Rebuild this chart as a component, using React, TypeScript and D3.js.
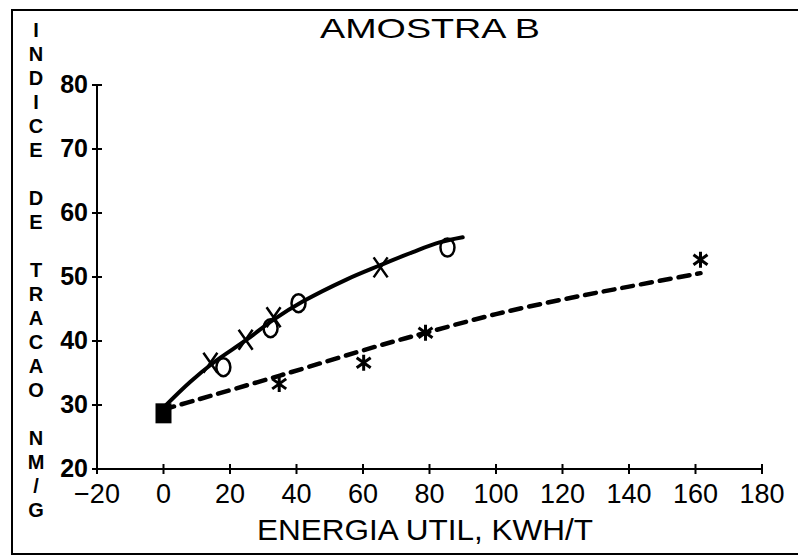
import React from "react";
import * as d3 from "d3";

const title = "AMOSTRA B";
const xTitle = "ENERGIA UTIL, KWH/T";
const yTitleWords = ["INDICE", "DE", "TRACAO", "NM/G"];
const xTicks = [-20, 0, 20, 40, 60, 80, 100, 120, 140, 160, 180];
const yTicks = [20, 30, 40, 50, 60, 70, 80];

// solid fitted curve
const solidX = [0, 8, 15, 25, 33, 42, 55, 65, 75, 83, 90];
const solidY = [29.6, 33.6, 36.6, 40.2, 43.3, 46.2, 49.6, 51.8, 53.9, 55.4, 56.2];
// dashed fitted curve
const dashX = [0, 10, 35, 65, 79, 100, 123, 140, 161.5];
const dashY = [29.3, 30.8, 34.6, 39.3, 41.3, 44.2, 46.8, 48.5, 50.6];

// markers
const xMarkX = [14.1, 24.7, 33.1, 65.3];
const xMarkY = [36.6, 40.2, 43.7, 51.5];
const oMarkX = [18, 32.2, 40.6, 85.4];
const oMarkY = [35.9, 42.0, 45.9, 54.6];
const starX = [34.8, 60.2, 78.8, 161.5];
const starY = [33.3, 36.6, 41.3, 52.7];
const squareX = [0];
const squareY = [28.7];

export default function App() {
  const W = 798, H = 556;
  const x = d3.scaleLinear().domain([-20, 180]).range([97, 762]);
  const y = d3.scaleLinear().domain([20, 80]).range([469, 85]);
  const font = "'Liberation Sans', Arial, sans-serif";

  const line = d3.line<[number, number]>()
    .x(d => x(d[0])).y(d => y(d[1]))
    .curve(d3.curveCatmullRom.alpha(0.5));
  const solidPath = line(solidX.map((v, i) => [v, solidY[i]]) as [number, number][]) || "";
  const dashPath = line(dashX.map((v, i) => [v, dashY[i]]) as [number, number][]) || "";

  const letters: { ch: string; idx: number }[] = [];
  let idx = 0;
  yTitleWords.forEach((w, wi) => {
    for (const ch of w) { letters.push({ ch, idx }); idx++; }
    if (wi < yTitleWords.length - 1) idx++;
  });
  const letterTop = 30, letterPitch = 24;

  return (
    <svg width={W} height={H} style={{ position: "absolute", left: 0, top: 0, background: "#fff" }}>
      <rect x={0} y={0} width={W} height={H} fill="#fff" />
      <path d={`M${W} 10 L12 10 L12 554 L${W} 554`} fill="none" stroke="#000" strokeWidth={2} />
      <text x={320} y={38} fontFamily={font} fontSize={28} textLength={220} lengthAdjust="spacingAndGlyphs" fill="#000">{title}</text>
      {letters.map((l, i) => (
        <text key={i} x={36} y={letterTop + l.idx * letterPitch + 7} textAnchor="middle" fontFamily={font} fontWeight="bold" fontSize={20} fill="#000">{l.ch}</text>
      ))}
      <line x1={x(-20)} y1={y(80)} x2={x(-20)} y2={y(20)} stroke="#000" strokeWidth={2} />
      <line x1={x(-20)} y1={y(20)} x2={x(180)} y2={y(20)} stroke="#000" strokeWidth={2} />
      {yTicks.map(t => (
        <g key={"yt" + t}>
          <line x1={x(-20) - 5} x2={x(-20) + 5} y1={y(t)} y2={y(t)} stroke="#000" strokeWidth={2} />
          <text x={x(-20) - 9} y={y(t) + 8} textAnchor="end" fontFamily={font} fontWeight="bold" fontSize={25} fill="#000">{t}</text>
        </g>
      ))}
      {xTicks.map(t => (
        <g key={"xt" + t}>
          <line x1={x(t)} x2={x(t)} y1={y(20) - 5} y2={y(20) + 5} stroke="#000" strokeWidth={2} />
          <text x={x(t)} y={503} textAnchor="middle" fontFamily={font} fontSize={27} fill="#000">{t < 0 ? "\u2212" + Math.abs(t) : t}</text>
        </g>
      ))}
      <text x={257} y={540} fontFamily={font} fontSize={29} textLength={336} lengthAdjust="spacingAndGlyphs" fill="#000">{xTitle}</text>
      <path d={solidPath} fill="none" stroke="#000" strokeWidth={4} strokeLinecap="round" />
      <path d={dashPath} fill="none" stroke="#000" strokeWidth={4.5} strokeDasharray="11 8" strokeLinecap="round" />
      {xMarkX.map((v, i) => {
        const cx = x(v), cy = y(xMarkY[i]);
        return (
          <path key={"x" + i} d={`M${cx - 7} ${cy - 10} L${cx + 7} ${cy + 10} M${cx + 7} ${cy - 10} L${cx - 7} ${cy + 10}`} stroke="#000" strokeWidth={2.5} fill="none" />
        );
      })}
      {oMarkX.map((v, i) => (
        <ellipse key={"o" + i} cx={x(v)} cy={y(oMarkY[i])} rx={7} ry={9} fill="none" stroke="#000" strokeWidth={2.5} />
      ))}
      {starX.map((v, i) => {
        const cx = x(v), cy = y(starY[i]);
        return (
          <path key={"s" + i} d={`M${cx} ${cy - 8} L${cx} ${cy + 8} M${cx - 7} ${cy - 5} L${cx + 7} ${cy + 5} M${cx + 7} ${cy - 5} L${cx - 7} ${cy + 5}`} stroke="#000" strokeWidth={3} fill="none" />
        );
      })}
      {squareX.map((v, i) => (
        <rect key={"q" + i} x={x(v) - 8} y={y(squareY[i]) - 10} width={16} height={20} fill="#000" />
      ))}
    </svg>
  );
}
